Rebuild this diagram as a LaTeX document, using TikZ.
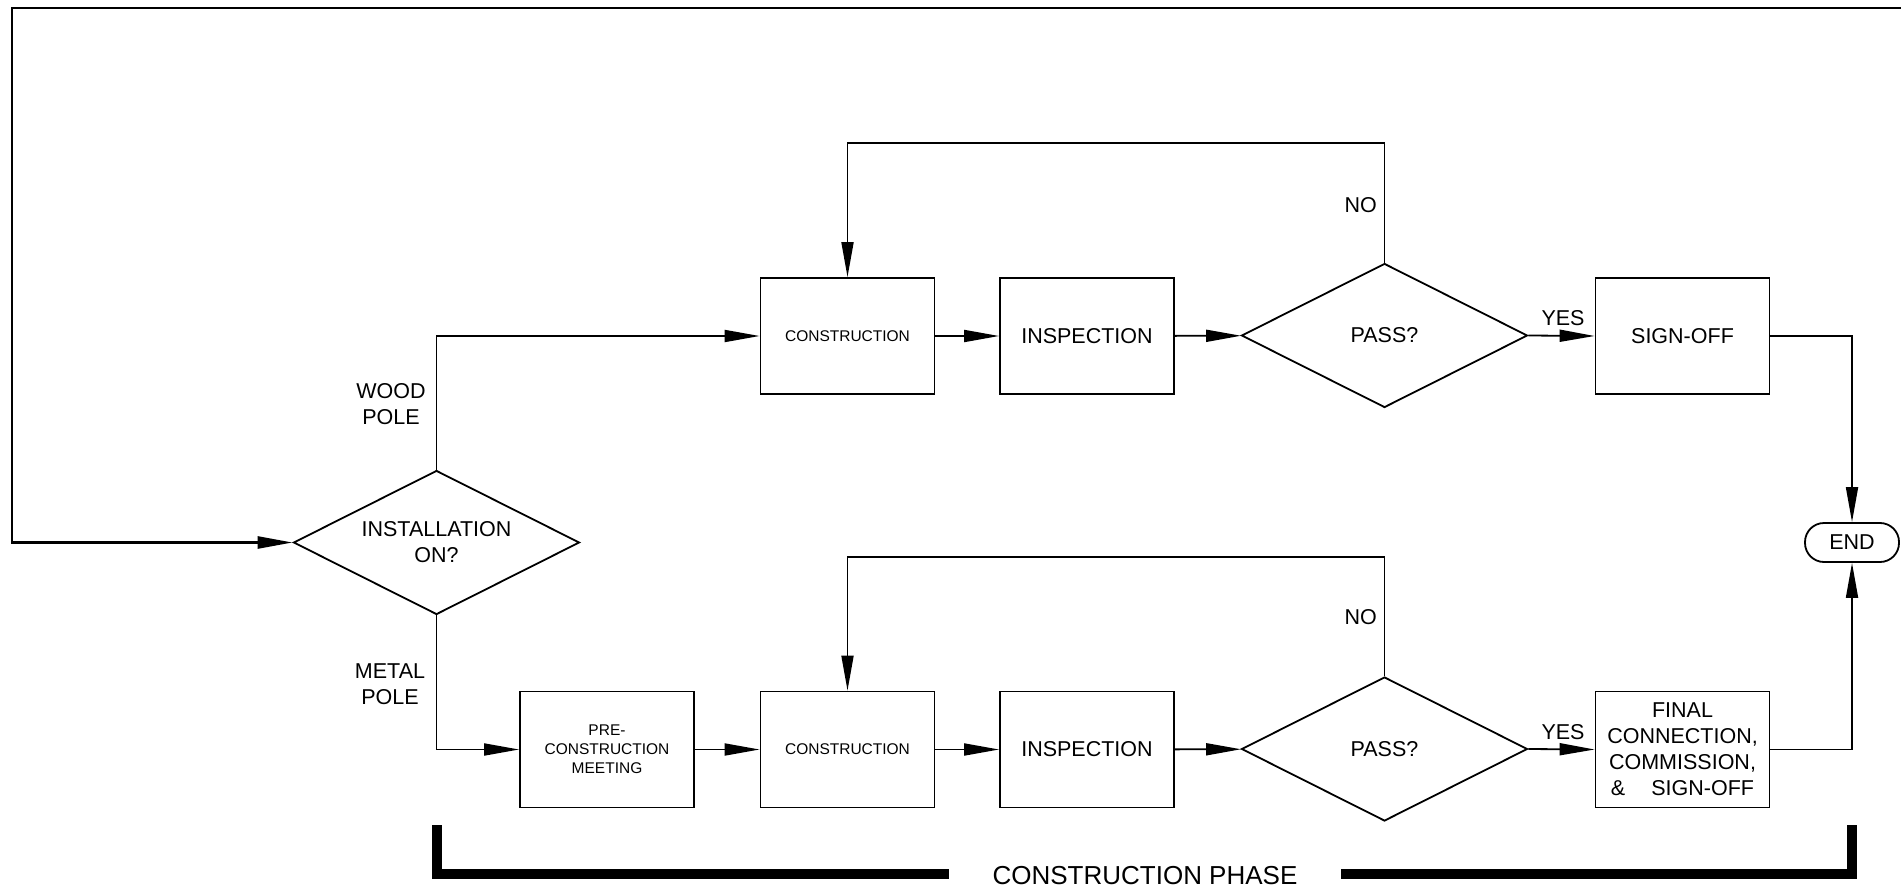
\documentclass[tikz,border=0pt]{standalone}
\usepackage{fontspec}
\setmainfont{Liberation Sans}
\usetikzlibrary{shapes.geometric,arrows.meta}
\begin{document}
\begin{tikzpicture}[x=1pt,y=-1pt,
  box/.style={draw, line width=1.8pt, minimum width=174pt, minimum height=116pt, inner sep=0pt, align=center},
  dia/.style={draw, diamond, aspect=2, line width=1.8pt, minimum width=286pt, minimum height=144pt, inner sep=0pt, align=center},
  big/.style={font=\fontsize{21.5pt}{26pt}\selectfont},
  small/.style={font=\fontsize{15.5pt}{19pt}\selectfont},
  conn/.style={line width=1.8pt},
  arr/.style={conn, -{Triangle[length=35pt,width=12pt]}},
  lbl/.style={big, align=center, inner sep=0pt},
  brk/.style={line width=10pt},
  endbox/.style={draw, line width=1.8pt, rounded corners=19pt, minimum width=94pt, minimum height=39pt, inner sep=0pt, big}
]
\useasboundingbox (0,0) rectangle (1901,888);

% nodes
\node[dia, big] (inst) at (436.5,542.5) {INSTALLATION\\ON?};
\node[box, small] (c1) at (847.5,336) {CONSTRUCTION};
\node[box, big] (i1) at (1087,336) {INSPECTION};
\node[dia, big] (p1) at (1384.5,335.5) {PASS?};
\node[box, big] (s1) at (1682.5,336) {SIGN-OFF};
\node[box, small] (pre) at (607,749.5) {PRE-\\CONSTRUCTION\\MEETING};
\node[box, small] (c2) at (847.5,749.5) {CONSTRUCTION};
\node[box, big] (i2) at (1087,749.5) {INSPECTION};
\node[dia, big] (p2) at (1384.5,749) {PASS?};
\node[box, big] (f2) at (1682.5,749.5) {FINAL\\CONNECTION,\\COMMISSION,\\\&\hspace{26pt}SIGN-OFF};
\node[endbox] (end) at (1852,542.5) {END};

% labels
\node[lbl] (wood) at (391,404) {WOOD\\POLE};
\node[lbl] (metal) at (390,684) {METAL\\POLE};
\node[lbl, anchor=east] (no1) at (1377,205) {NO};
\node[lbl, anchor=east] (no2) at (1377,617) {NO};
\node[lbl] (yes1) at (1563,318.5) {YES};
\node[lbl] (yes2) at (1563,732) {YES};
\node[font=\fontsize{26pt}{30pt}\selectfont, anchor=base, inner sep=0pt] (phase) at (1145,884) {CONSTRUCTION PHASE};

% coordinates
\coordinate (b1) at (1901,8);
\coordinate (b2) at (12,8);
\coordinate (n1) at (847.5,143);
\coordinate (n2) at (847.5,557);
\coordinate (k1) at (437,825);
\coordinate (k2) at (949,873.5);
\coordinate (k3) at (1341,873.5);
\coordinate (k4) at (1852,825);

% connectors
\draw[arr, line width=2.6pt] (b1) -- (b2) |- (inst.west);
\draw[arr] (inst.north) |- (c1.west);
\draw[arr] (inst.south) |- (pre.west);
\draw[arr] (c1) -- (i1);
\draw[arr] (i1) -- (p1);
\draw[arr] (p1.east) -- (s1.west);
\draw[arr] (p1.north) |- (n1) -- (c1.north);
\draw[arr] (s1.east) -| (end.north);
\draw[arr] (pre) -- (c2);
\draw[arr] (c2) -- (i2);
\draw[arr] (i2) -- (p2);
\draw[arr] (p2.east) -- (f2.west);
\draw[arr] (p2.north) |- (n2) -- (c2.north);
\draw[arr] (f2.east) -| (end.south);

% bracket
\draw[brk] (k1) |- (k2);
\draw[brk] (k3) -| (k4);
\end{tikzpicture}
\end{document}
